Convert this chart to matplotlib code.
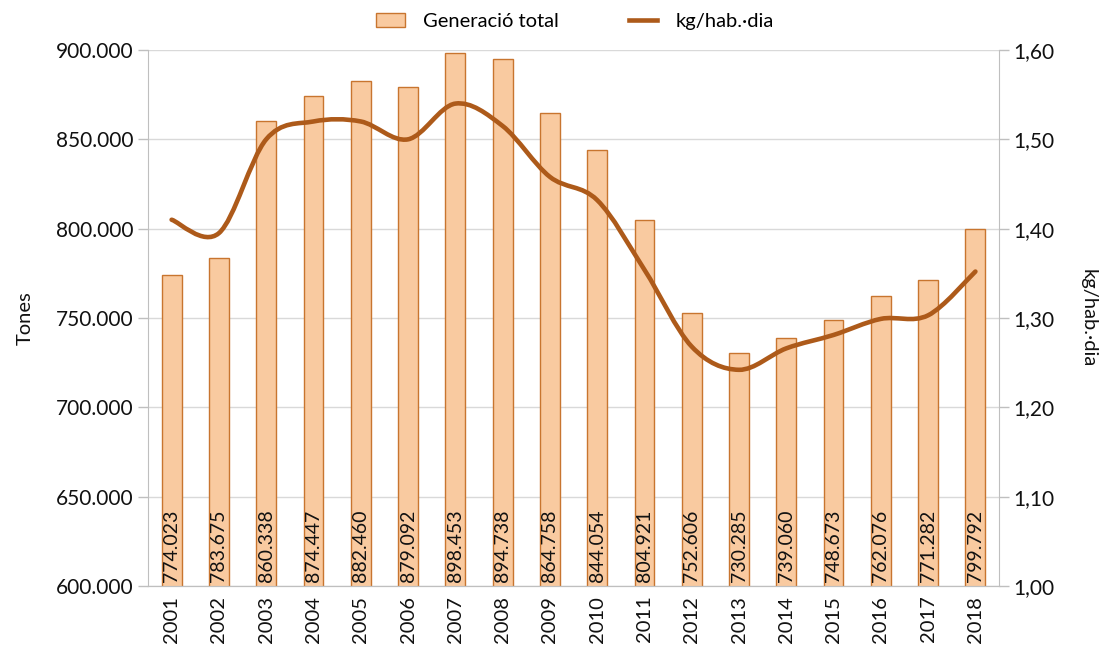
import matplotlib
matplotlib.use('Agg')
import matplotlib.pyplot as plt
from matplotlib.path import Path
from matplotlib.patches import PathPatch
from matplotlib.lines import Line2D
from matplotlib.patches import Patch
import numpy as np

plt.rcParams['font.family'] = ['Lato', 'DejaVu Sans']

# dades
anys = ['2001', '2002', '2003', '2004', '2005', '2006', '2007', '2008', '2009',
        '2010', '2011', '2012', '2013', '2014', '2015', '2016', '2017', '2018']
generacio = [774023, 783675, 860338, 874447, 882460, 879092, 898453, 894738, 864758,
             844054, 804921, 752606, 730285, 739060, 748673, 762076, 771282, 799792]
kg_hab_dia = [1.41, 1.395, 1.50, 1.52, 1.52, 1.50, 1.54, 1.515, 1.458,
              1.432, 1.354, 1.268, 1.242, 1.266, 1.281, 1.299, 1.303, 1.352]

bar_face = '#F9CAA0'
bar_edge = '#C8752F'
line_col = '#AD5A1A'
grid_col = '#D9D9D9'
axis_col = '#BFBFBF'
txt_col = '#111111'


def fmt_miles(v):
    return f'{int(v):,}'.replace(',', '.')


fig = plt.figure(figsize=(11.06, 6.46), dpi=100)
ax = fig.add_axes([0.1338, 0.0929, 0.7695, 0.8297])
ax2 = ax.twinx()

x = np.arange(len(anys))
bars = ax.bar(x, generacio, width=0.42, color=bar_face, edgecolor=bar_edge,
              linewidth=1.0, zorder=2)
for xi, v in zip(x, generacio):
    ax.text(xi, 602000, fmt_miles(v), rotation=90, ha='center', va='bottom',
            fontsize=14, color=txt_col, zorder=3)

ax.set_ylim(600000, 900000)
ax.set_xlim(-0.5, len(anys) - 0.5)
ax.set_yticks(np.arange(600000, 900001, 50000))
ax.set_yticklabels([fmt_miles(t) for t in np.arange(600000, 900001, 50000)])
ax.set_xticks(x)
ax.set_xticklabels(anys, rotation=90)
ax.grid(axis='y', color=grid_col, linewidth=1.0, zorder=0)
ax.set_axisbelow(True)
ax.set_ylabel('Tones', fontsize=14.5, color=txt_col, labelpad=16)

# línia suavitzada (corba de Bezier a partir dels punts)
pts = np.column_stack([x, kg_hab_dia])
verts = [tuple(pts[0])]
codes = [Path.MOVETO]
n = len(pts)
for i in range(n - 1):
    p0 = pts[max(i - 1, 0)]
    p1 = pts[i]
    p2 = pts[i + 1]
    p3 = pts[min(i + 2, n - 1)]
    c1 = p1 + (p2 - p0) / 6.0
    c2 = p2 - (p3 - p1) / 6.0
    verts += [tuple(c1), tuple(c2), tuple(p2)]
    codes += [Path.CURVE4] * 3
ax2.add_patch(PathPatch(Path(verts, codes), facecolor='none', edgecolor=line_col,
                        linewidth=3.3, capstyle='round', zorder=4))
ax2.set_ylim(1.0, 1.6)
ax2.set_yticks(np.arange(1.0, 1.61, 0.1))
ax2.set_yticklabels([f'{t:.2f}'.replace('.', ',') for t in np.arange(1.0, 1.61, 0.1)])
ax2.set_ylabel('kg/hab.·dia', rotation=-90, fontsize=14.5, color=txt_col, labelpad=30)

for a in (ax, ax2):
    for s in a.spines.values():
        s.set_color(axis_col)
    a.spines['top'].set_visible(False)
    a.tick_params(colors=axis_col, labelcolor=txt_col, labelsize=15, length=7, width=1)
ax.tick_params(axis='x', length=0, pad=7, labelsize=14.5)
ax2.spines['left'].set_visible(False)
ax.spines['right'].set_visible(False)

handles = [Patch(facecolor=bar_face, edgecolor=bar_edge, label='Generació total'),
           Line2D([0], [0], color=line_col, linewidth=3.3, label='kg/hab.·dia')]
fig.legend(handles=handles, loc='upper center', bbox_to_anchor=(0.52, 1.008), ncol=2,
           frameon=False, fontsize=14.5, columnspacing=3.5, handlelength=1.4,
           handletextpad=0.9)

fig.savefig('out.png', dpi=100)
